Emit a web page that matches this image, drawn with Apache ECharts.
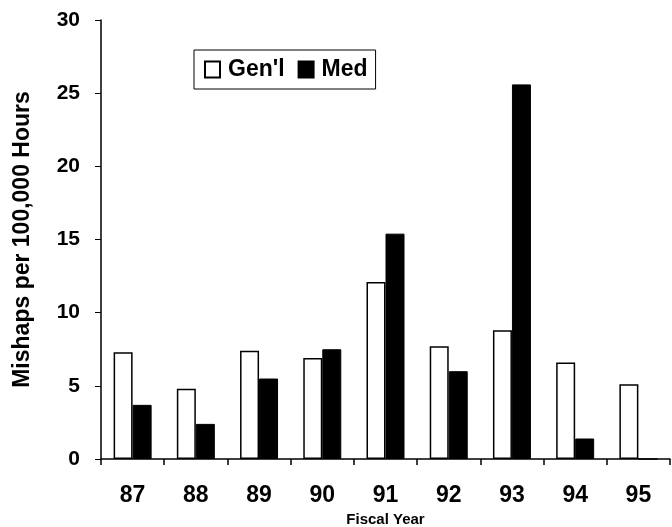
<!DOCTYPE html>
<html><head><meta charset="utf-8">
<script src="https://cdn.jsdelivr.net/npm/echarts@6/dist/echarts.min.js"></script>
<style>html,body{margin:0;padding:0;background:#fff}#c{width:672px;height:527px}</style>
</head><body><div id="c"></div>
<script>
const categories = ['87','88','89','90','91','92','93','94','95'];
const genl = [7.3, 4.8, 7.4, 6.9, 12.1, 7.7, 8.8, 6.6, 5.1];
const med = [3.7, 2.4, 5.5, 7.5, 15.4, 6.0, 25.6, 1.4, 0];
const yTicks = [0, 5, 10, 15, 20, 25, 30];

const FONT = '"Liberation Sans", Arial, sans-serif';
const chart = echarts.init(document.getElementById('c'), null, {renderer: 'canvas'});
chart.setOption({
  animation: false,
  backgroundColor: '#fff',
  grid: {left: 101, right: 2, top: 20, bottom: 68, containLabel: false, outerBoundsMode: 'none'},
  legend: {
    left: 194, top: 50,
    padding: [8, 8, 8, 10],
    borderColor: '#000', borderWidth: 1,
    itemWidth: 15, itemHeight: 16, itemGap: 13,
    textStyle: {fontFamily: FONT, fontWeight: 'bold', fontSize: 23, color: '#000', padding: [0, 0, 0, 3]},
    data: [{name: "Gen'l", icon: 'rect'}, {name: 'Med', icon: 'rect'}]
  },
  xAxis: {
    type: 'category', data: categories,
    name: 'Fiscal Year', nameLocation: 'middle', nameGap: 52,
    nameTextStyle: {fontFamily: FONT, fontWeight: 'bold', fontSize: 15, color: '#000'},
    axisLine: {lineStyle: {color: '#000', width: 1.5}},
    axisTick: {show: true, length: 6, alignWithLabel: false, lineStyle: {color: '#000', width: 1.5}},
    axisLabel: {fontFamily: FONT, fontWeight: 'bold', fontSize: 23, color: '#000', margin: 25}
  },
  yAxis: {
    type: 'value', min: yTicks[0], max: yTicks[yTicks.length-1], interval: 5,
    name: 'Mishaps per 100,000 Hours', nameLocation: 'middle', nameGap: 67,
    nameTextStyle: {fontFamily: FONT, fontWeight: 'bold', fontSize: 23, color: '#000'},
    axisLine: {show: true, lineStyle: {color: '#000', width: 1.5}},
    axisTick: {show: true, length: 6, lineStyle: {color: '#000', width: 1}},
    splitLine: {show: false},
    axisLabel: {fontFamily: FONT, fontWeight: 'bold', fontSize: 21, color: '#000', margin: 21}
  },
  series: [
    {name: "Gen'l", type: 'bar', data: genl, barWidth: 19, barGap: '0%',
     itemStyle: {color: '#fff', borderColor: '#000', borderWidth: 1.5}},
    {name: 'Med', type: 'bar', data: med, barWidth: 19,
     itemStyle: {color: '#000', borderColor: '#000', borderWidth: 1}}
  ]
});
</script></body></html>
